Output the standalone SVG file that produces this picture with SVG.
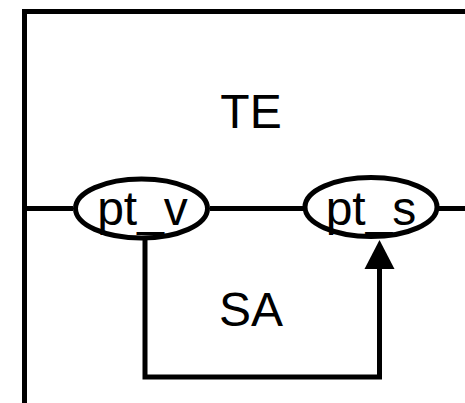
<svg xmlns="http://www.w3.org/2000/svg" width="465" height="403" viewBox="0 0 465 403">
<style>
.ln{fill:none;stroke:#000;stroke-width:5}
.el{fill:none;stroke:#000;stroke-width:5}
.t{font-family:"Liberation Sans",Arial,sans-serif;font-size:48px;fill:#000;text-anchor:middle}
</style>
<defs>
<marker id="ah" markerUnits="userSpaceOnUse" markerWidth="30" markerHeight="30" refX="29" refY="15" orient="auto">
<path d="M0,0 L29,15 L0,30 Z" fill="#000"/>
</marker>
</defs>
<rect width="465" height="403" fill="#fff"/>
<g id="frame">
<path class="ln" d="M24.5,403 V11.5 H465"/>
<text class="t" x="251" y="128">TE</text>
<text class="t" x="251" y="326">SA</text>
</g>
<g id="connectors">
<path class="ln" d="M22,208.5 H73 M210,208.5 H303 M439,208.5 H465"/>
<path class="ln" d="M145,238 V377 H379.5 V269" />
<path d="M364.5,269 L379.5,240 L394.5,269 Z" fill="#000"/>
</g>
<g id="pt_v">
<ellipse class="el" cx="141.5" cy="208.5" rx="66" ry="29.5"/>
<text class="t" x="142.5" y="225">pt_v</text>
</g>
<g id="pt_s">
<ellipse class="el" cx="371" cy="207" rx="66" ry="29.5"/>
<text class="t" x="371" y="225">pt_s</text>
</g>
</svg>
